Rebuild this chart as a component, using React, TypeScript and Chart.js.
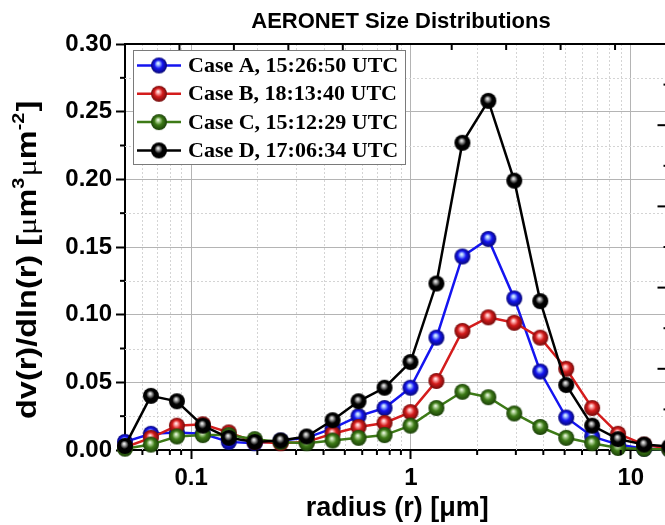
import React, { useEffect, useRef } from 'react';
import { Chart, registerables } from 'chart.js';

Chart.register(...registerables);

// ---------- data ----------
const radii = [0.05, 0.0656, 0.0861, 0.113, 0.1483, 0.1946, 0.2554, 0.3352, 0.4399, 0.5774, 0.7578, 0.9946, 1.3054, 1.7133, 2.2486, 2.9512, 3.8734, 5.0837, 6.6721, 8.7569, 11.4932, 15.0];
const caseA = [0.006, 0.012, 0.013, 0.012, 0.006, 0.005, 0.007, 0.009, 0.016, 0.025, 0.031, 0.046, 0.083, 0.143, 0.156, 0.112, 0.058, 0.024, 0.010, 0.004, 0.001, 0.0005];
const caseB = [0.002, 0.009, 0.018, 0.019, 0.013, 0.006, 0.005, 0.006, 0.012, 0.017, 0.020, 0.028, 0.051, 0.088, 0.098, 0.094, 0.083, 0.060, 0.031, 0.012, 0.004, 0.001];
const caseC = [0.001, 0.004, 0.010, 0.011, 0.011, 0.008, 0.006, 0.005, 0.007, 0.009, 0.011, 0.018, 0.031, 0.043, 0.039, 0.027, 0.017, 0.009, 0.005, 0.0015, 0.0008, 0.0003];
const caseD = [0.003, 0.040, 0.036, 0.018, 0.009, 0.006, 0.007, 0.010, 0.022, 0.036, 0.046, 0.065, 0.123, 0.227, 0.258, 0.199, 0.110, 0.048, 0.018, 0.008, 0.004, 0.0025];

const seriesLabels = ['Case A, 15:26:50 UTC', 'Case B, 18:13:40 UTC', 'Case C, 15:12:29 UTC', 'Case D, 17:06:34 UTC'];
const seriesValues = [caseA, caseB, caseC, caseD];
const seriesColors = ['#1414f0', '#d41c1c', '#3d7a17', '#000000'];
const seriesLight = ['#a8c8ff', '#ffb0b0', '#b8d8a0', '#b0b0b0'];
const seriesDark = ['#06066a', '#6a0808', '#173a06', '#000000'];

const xTickValues = [0.1, 1, 10];
const xTickLabels = ['0.1', '1', '10'];
const xMinorValues = [0.06, 0.07, 0.08, 0.09, 0.2, 0.3, 0.4, 0.5, 0.6, 0.7, 0.8, 0.9, 2, 3, 4, 5, 6, 7, 8, 9];
const yMinorValues = [0.025, 0.075, 0.125, 0.175, 0.225, 0.275];
const topTickValues = [1, 2, 3, 4, 5, 6, 7, 8, 9];
const rightTickValues = [1, 2, 3, 4, 5, 6, 7, 8, 9];

const chartTitle = 'AERONET Size Distributions';
const xTitle = 'radius (r) [μm]';
// y-axis title pieces: [text, kind] (kind: n = normal bold, g = greek, s = superscript)
const yTitleParts: [string, string][] = [
  ['dv(r)/dln(r) [', 'n'],
  ['μ', 'g'],
  ['m', 'n'],
  ['3', 's'],
  ['μ', 'g'],
  ['m', 'n'],
  ['-2', 's'],
  [']', 'n'],
];

const SANS = 'Arial, "Liberation Sans", sans-serif';
const SERIF = '"Times New Roman", "Liberation Serif", serif';

function makeBall(color: string, light: string, dark: string, r: number) {
  const c = document.createElement('canvas');
  const s = Math.ceil(r * 2 + 2);
  c.width = s;
  c.height = s;
  const g = c.getContext('2d')!;
  const cx = s / 2;
  const cy = s / 2;
  const grad = g.createRadialGradient(cx - r * 0.12, cy - r * 0.3, 0, cx, cy, r * 1.05);
  grad.addColorStop(0, '#ffffff');
  grad.addColorStop(0.18, light);
  grad.addColorStop(0.5, color);
  grad.addColorStop(1, dark);
  g.fillStyle = grad;
  g.beginPath();
  g.arc(cx, cy, r, 0, Math.PI * 2);
  g.fill();
  return c;
}

function makeDecorPlugin(balls: HTMLCanvasElement[]) {
  return {
    id: 'decor',
    beforeDatasetsDraw(chart: any) {
      const { ctx, chartArea } = chart;
      const xs = chart.scales.x;
      const ys = chart.scales.y;
      ctx.save();
      ctx.strokeStyle = '#d4d4d4';
      ctx.lineWidth = 1;
      ctx.setLineDash([2, 2]);
      xMinorValues.forEach((v) => {
        const px = Math.round(xs.getPixelForValue(v)) + 0.5;
        ctx.beginPath();
        ctx.moveTo(px, chartArea.top);
        ctx.lineTo(px, chartArea.bottom);
        ctx.stroke();
      });
      yMinorValues.forEach((v) => {
        const py = Math.round(ys.getPixelForValue(v)) + 0.5;
        ctx.beginPath();
        ctx.moveTo(chartArea.left, py);
        ctx.lineTo(chartArea.right, py);
        ctx.stroke();
      });
      ctx.restore();
    },
    afterDatasetsDraw(chart: any) {
      const { ctx, chartArea } = chart;
      const bx = chartArea.left + 8;
      const by = chartArea.top + 6;
      const bw = 272;
      const bh = 114;
      ctx.save();
      ctx.fillStyle = '#ffffff';
      ctx.fillRect(bx, by, bw, bh);
      ctx.strokeStyle = '#7a7a7a';
      ctx.lineWidth = 1;
      ctx.strokeRect(bx + 0.5, by + 0.5, bw, bh);
      seriesLabels.forEach((lab, i) => {
        const cy = by + 15.5 + i * 28.3;
        ctx.strokeStyle = seriesColors[i];
        ctx.lineWidth = 2.5;
        ctx.beginPath();
        ctx.moveTo(bx + 4, cy);
        ctx.lineTo(bx + 48, cy);
        ctx.stroke();
        const b = balls[i];
        if (b) ctx.drawImage(b, bx + 26 - b.width / 2, cy - b.height / 2);
        ctx.fillStyle = '#000';
        ctx.font = `bold 22px ${SERIF}`;
        ctx.textAlign = 'left';
        ctx.textBaseline = 'middle';
        ctx.fillText(lab, bx + 55, cy + 1);
      });
      ctx.restore();
    },
    afterDraw(chart: any) {
      const { ctx, chartArea } = chart;
      const xs = chart.scales.x;
      const ys = chart.scales.y;
      const x2 = chart.scales.x2;
      const y2 = chart.scales.y2;
      ctx.save();
      ctx.strokeStyle = '#000';
      ctx.lineWidth = 2;
      ctx.beginPath();
      ctx.moveTo(chartArea.left - 1, chartArea.top);
      ctx.lineTo(chartArea.right, chartArea.top);
      ctx.lineTo(chartArea.right, chartArea.bottom);
      ctx.stroke();
      xMinorValues.forEach((v) => {
        const px = xs.getPixelForValue(v);
        ctx.beginPath();
        ctx.moveTo(px, chartArea.bottom);
        ctx.lineTo(px, chartArea.bottom + 5);
        ctx.stroke();
      });
      yMinorValues.forEach((v) => {
        const py = ys.getPixelForValue(v);
        ctx.beginPath();
        ctx.moveTo(chartArea.left, py);
        ctx.lineTo(chartArea.left - 5, py);
        ctx.stroke();
      });
      if (x2) {
        topTickValues.forEach((v) => {
          const px = x2.getPixelForValue(v);
          ctx.beginPath();
          ctx.moveTo(px, chartArea.top);
          ctx.lineTo(px, chartArea.top + 6);
          ctx.stroke();
        });
      }
      if (y2) {
        rightTickValues.forEach((v) => {
          const py = y2.getPixelForValue(v);
          const len = v % 2 === 0 ? 12 : 6;
          ctx.beginPath();
          ctx.moveTo(chartArea.right, py);
          ctx.lineTo(chartArea.right - len, py);
          ctx.stroke();
        });
      }
      // chart title
      ctx.fillStyle = '#000';
      ctx.font = `bold 22px ${SANS}`;
      ctx.textAlign = 'center';
      ctx.textBaseline = 'middle';
      ctx.fillText(chartTitle, 401, 22);

      // y-axis title (rotated, with superscripts)
      ctx.translate(36, 419);
      ctx.rotate(-Math.PI / 2);
      ctx.scale(1.16, 1);
      ctx.textAlign = 'left';
      ctx.textBaseline = 'alphabetic';
      let cur = 0;
      yTitleParts.forEach(([t, kind]) => {
        let font = `bold 28px ${SANS}`;
        let dy = 0;
        if (kind === 'g') font = `28px ${SERIF}`;
        if (kind === 's') {
          font = `bold 17px ${SANS}`;
          dy = -12;
        }
        ctx.font = font;
        ctx.fillText(t, cur, dy);
        cur += ctx.measureText(t).width + (kind === 's' ? 1 : 0);
      });
      ctx.restore();
    },
  };
}

export default function App() {
  const ref = useRef<HTMLCanvasElement | null>(null);

  useEffect(() => {
    if (!ref.current) return;
    const balls = seriesColors.map((c, i) => makeBall(c, seriesLight[i], seriesDark[i], 8));
    const datasets = seriesValues.map((vals, i) => ({
      label: seriesLabels[i],
      data: radii.map((r, j) => ({ x: r, y: vals[j] })),
      borderColor: seriesColors[i],
      backgroundColor: seriesColors[i],
      borderWidth: 2.5,
      pointStyle: balls[i] as any,
      pointRadius: 8,
      pointHoverRadius: 8,
      tension: 0,
      clip: false as any,
      order: seriesValues.length - 1 - i,
    }));

    const chart: any = new Chart(ref.current, {
      type: 'line',
      data: { datasets },
      plugins: [makeDecorPlugin(balls)],
      options: {
        animation: false,
        responsive: false,
        devicePixelRatio: 1,
        layout: { padding: { top: 44, right: 10, left: 0, bottom: 0 } },
        plugins: {
          legend: { display: false },
          title: { display: false },
          tooltip: { enabled: false },
        },
        scales: {
          x: {
            type: 'logarithmic',
            min: 0.05,
            max: 15,
            afterBuildTicks: (s: any) => {
              s.ticks = xTickValues.map((v) => ({ value: v }));
            },
            afterFit: (s: any) => {
              s.height = 75;
            },
            ticks: {
              autoSkip: false,
              maxRotation: 0,
              color: '#000',
              padding: 5,
              font: { family: SANS, weight: 'bold', size: 24 },
              callback: (v: any) => {
                const idx = xTickValues.indexOf(Number(v));
                return idx >= 0 ? xTickLabels[idx] : '';
              },
            },
            grid: { color: '#b4b4b4', lineWidth: 1, tickColor: '#000', tickLength: 9, tickWidth: 2 },
            border: { color: '#000', width: 2 },
            title: {
              display: true,
              text: xTitle,
              color: '#000',
              font: { family: SANS, weight: 'bold', size: 27 },
              padding: { top: 0, bottom: 0 },
            },
          },
          y: {
            type: 'linear',
            min: 0,
            max: 0.3,
            afterFit: (s: any) => {
              s.width = 125;
            },
            ticks: {
              stepSize: 0.05,
              color: '#000',
              padding: 4,
              font: { family: SANS, weight: 'bold', size: 24 },
              callback: (v: any) => Number(v).toFixed(2),
            },
            grid: { color: '#b4b4b4', lineWidth: 1, tickColor: '#000', tickLength: 9, tickWidth: 2 },
            border: { color: '#000', width: 2 },
            title: { display: false },
          },
          x2: { type: 'linear', display: false, position: 'top', min: 0, max: 10 },
          y2: { type: 'linear', display: false, position: 'right', min: 0, max: 10 },
        },
      } as any,
    });
    return () => chart.destroy();
  }, []);

  return (
    <div style={{ position: 'fixed', left: 0, top: 0, width: 665, height: 525, overflow: 'hidden', background: '#fff' }}>
      <canvas ref={ref} width={680} height={525} style={{ display: 'block', width: 680, height: 525 }} />
    </div>
  );
}
